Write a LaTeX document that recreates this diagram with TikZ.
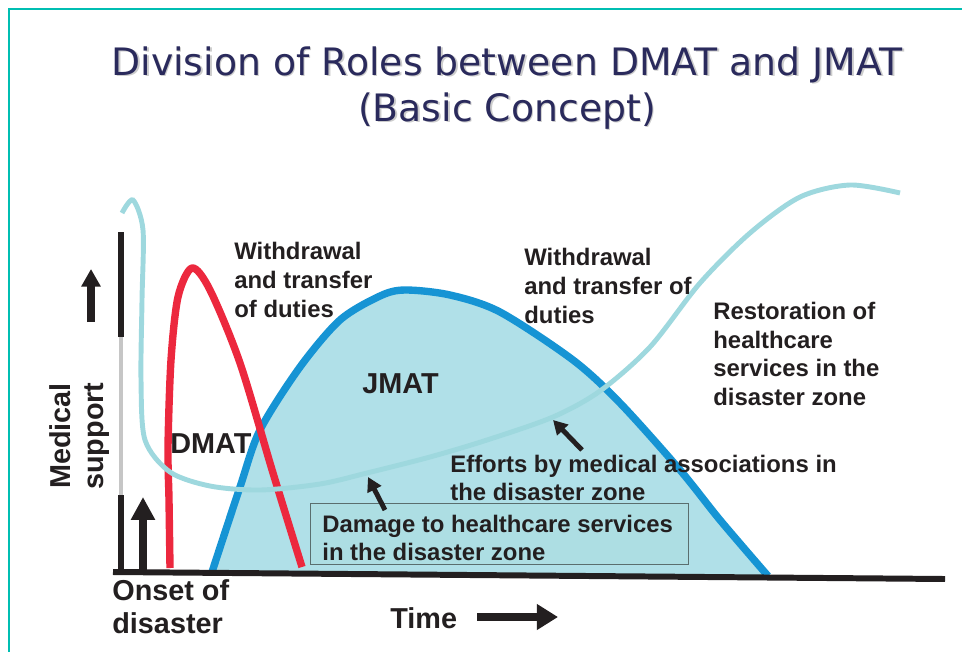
\documentclass[tikz,border=0pt]{standalone}
\usepackage{fontspec}
\setmainfont{Liberation Sans}
\newfontfamily\titlefont{DejaVu Sans}
\usetikzlibrary{arrows.meta,calc}

\definecolor{framecol}{RGB}{0,190,178}
\definecolor{titlecol}{RGB}{42,42,92}
\definecolor{inkcol}{RGB}{35,31,32}
\definecolor{dmatred}{RGB}{236,40,62}
\definecolor{jmatblue}{RGB}{22,148,212}
\definecolor{jmatfill}{RGB}{176,224,232}
\definecolor{restcol}{RGB}{158,216,222}
\definecolor{boxline}{RGB}{90,110,110}

\tikzset{
    lbl/.style={inner sep=0pt, anchor=base west, align=left, text=inkcol,
        font=\fontsize{13.6pt}{16.4pt}\selectfont\bfseries},
    biglbl/.style={lbl, font=\fontsize{16.4pt}{18.7pt}\selectfont\bfseries},
    curve/.style={line width=4.2pt, line join=round},
    pointer/.style={inkcol, line width=2.8pt, -{Triangle[length=8pt,width=8.5pt]}},
}

\begin{document}
\begin{tikzpicture}[x={(0.02cm,0)},y={(0,-0.02cm)}]%,>=latex]

                                \useasboundingbox (0,0) rectangle (962,652);
                                \draw[framecol, line width=1.7pt] (962,9) -- (9,9) -- (9,652);

                                % title with its shadow (base = last line)
                                \node[anchor=base, align=center, text=gray!40, font=\titlefont\fontsize{21.5pt}{26pt}\selectfont]
                                    (titleshadow) at (508.5,122.5) {Division of Roles between DMAT and JMAT\\(Basic Concept)};
                                \node[anchor=base, align=center, text=titlecol, font=\titlefont\fontsize{21.5pt}{26pt}\selectfont]
                                    (title) at (507,121) {Division of Roles between DMAT and JMAT\\(Basic Concept)};

                                % JMAT area
                                \fill[jmatfill] plot[smooth] coordinates {(212,572) (240,487) (260,430) (300,367) (340,320) (380,296) (405,290) (450,295) (500,312) (573,360) (620,403) (680,470) (720,520) (768,576)} -- cycle;
                                \node[draw=boxline, fill=restcol!85!white, line width=0.8pt, minimum width=378*0.02cm, minimum height=61*0.02cm, anchor=north west, inner sep=0pt]
                                    (damagebox) at (310,503) {};
                                \draw[jmatblue, curve] plot[smooth] coordinates {(212,572) (240,487) (260,430) (300,367) (340,320) (380,296) (405,290) (450,295) (500,312) (573,360) (620,403) (680,470) (720,520) (768,576)};
                                \draw[dmatred, curve] plot[smooth] coordinates {(170,568) (169,500) (168,447) (171,360) (178,297) (192,268) (210,290) (240,363) (273,473) (302,567)};
                                \draw[restcol, line width=2.8pt] plot[smooth] coordinates {(122,213) (133,200) (143,230) (142,300) (141,380) (145,440) (170,472) (210,486) (260,490) (320,484) (367,473) (430,457) (487,440) (553,417) (600,391) (650,347) (700,283) (750,233) (800,197) (850,185) (900,193)};

                                % axes
                                \coordinate (O) at (113,572);
                                \coordinate (xend) at (945,579);
                                \coordinate (ybot) at (121,570);
                                \coordinate (ytop) at (121,232);
                                \draw[inkcol, line width=3.4pt] (O) -- (xend);
                                \draw[inkcol, line width=3.4pt] (ybot) -- (121,495);
                                \draw[gray!45, line width=2.6pt] (121,495) -- (121,337);
                                \draw[inkcol, line width=3.4pt] (121,337) -- (ytop);

                                \coordinate (upfoot) at (91,322);
                                \coordinate (uptip) at (91,269);
                                \draw[inkcol, line width=4pt, -{Triangle[length=10pt,width=10.5pt]}] (upfoot) -- (uptip);
                                \coordinate (onsetfoot) at (143,570);
                                \coordinate (onsettip) at (143,497);
                                \draw[inkcol, line width=4.5pt, -{Triangle[length=13pt,width=13pt]}] (onsetfoot) -- (onsettip);

                                % labels (base = baseline of the last line)
                                \node[lbl] (wddmat) at (234,317) {Withdrawal\\and transfer\\of duties};
                                \node[lbl] (wdjmat) at (524,323) {Withdrawal\\and transfer of\\duties};
                                \node[lbl, font=\fontsize{13.6pt}{16.2pt}\selectfont\bfseries] (restore) at (713,405) {Restoration of\\healthcare\\services in the\\disaster zone};
                                \node[lbl, font=\fontsize{13.6pt}{15.9pt}\selectfont\bfseries] (efforts) at (450,500) {Efforts by medical associations in\\the disaster zone};
                                \node[lbl, font=\fontsize{13.6pt}{15.9pt}\selectfont\bfseries] (damage) at (322,560) {Damage to healthcare services\\in the disaster zone};
                                \node[biglbl] (jmat) at (362,393) {JMAT};
                                \node[biglbl] (dmat) at (170,453) {DMAT};
                                \node[biglbl, align=center, rotate=90] (support) at (103,490) {Medical\\support};
                                \node[biglbl] (onset) at (112,633) {Onset of\\disaster};
                                \node[biglbl] (time) at (390,628) {Time};

                                % pointers
                                \coordinate (efftail) at (582,450);
                                \coordinate (efftip) at (553,420);
                                \draw[pointer] (efftail) -- (efftip);
                                \coordinate (dmgtail) at (385,510);
                                \coordinate (dmgtip) at (368,477);
                                \draw[pointer] (dmgtail) -- (dmgtip);
                                \coordinate (timetail) at (477,617);
                                \coordinate (timetip) at (558,617);
                                \draw[inkcol, line width=4.5pt, -{Triangle[length=12pt,width=14pt]}] (timetail) -- (timetip);
                            \end{tikzpicture}
\end{document}
